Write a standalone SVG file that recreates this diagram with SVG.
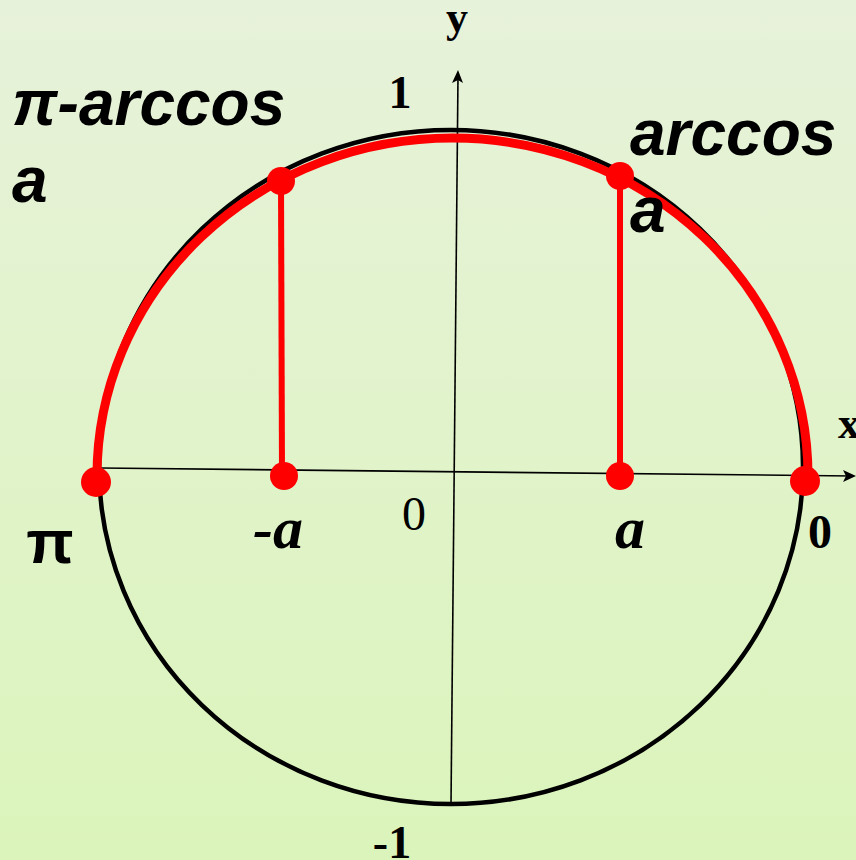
<svg xmlns="http://www.w3.org/2000/svg" width="856" height="860" viewBox="0 0 856 860">
<defs>
<linearGradient id="bg" x1="0" y1="0" x2="0" y2="1">
<stop offset="0" stop-color="#e7f2da"/>
<stop offset="1" stop-color="#dbf4bb"/>
</linearGradient>
<style>
.ser{font-family:"Liberation Serif","Times New Roman",serif;fill:#000}
.sb{font-family:"Liberation Serif","Times New Roman",serif;font-weight:bold;fill:#000}
.sbi{font-family:"Liberation Serif","Times New Roman",serif;font-weight:bold;font-style:italic;fill:#000}
.sans{font-family:"Liberation Sans",Arial,sans-serif;font-weight:bold;font-style:italic;fill:#000}
.axis{stroke:#000;stroke-width:1.6;fill:none}
.red{stroke:#ff0000;fill:none}
.dot{fill:#ff0000}
</style>
</defs>
<rect x="0" y="0" width="856" height="860" fill="url(#bg)"/>
<g id="circle">
<ellipse cx="451" cy="467" rx="352" ry="337" fill="none" stroke="#000" stroke-width="4.5"/>
</g>
<g id="connectors">
<line class="axis" x1="100" y1="468" x2="852" y2="476"/>
<path d="M856 476 L843 470 L846 476 L843 482 Z" fill="#000"/>
<line class="axis" x1="451" y1="804" x2="458" y2="76"/>
<path d="M458 70 L452 83 L458 80 L463 83 Z" fill="#000"/>
<path class="red" stroke-width="9" d="M97 476 A355.5 338 0 0 1 808 476"/>
<line class="red" stroke-width="6" x1="281" y1="181" x2="282" y2="476"/>
<line class="red" stroke-width="6" x1="620" y1="176" x2="620" y2="476"/>
</g>
<g id="points">
<circle class="dot" cx="281" cy="181" r="14"/>
<circle class="dot" cx="620" cy="176" r="14"/>
<circle class="dot" cx="284" cy="476" r="14"/>
<circle class="dot" cx="620" cy="476" r="14"/>
<circle class="dot" cx="96" cy="482" r="15"/>
<circle class="dot" cx="805" cy="481" r="15"/>
</g>
<g id="labels">
<text class="sb" x="457" y="32" font-size="44" text-anchor="middle">y</text>
<text class="sb" x="400" y="108" font-size="46" text-anchor="middle">1</text>
<text class="sb" x="392" y="858" font-size="46" text-anchor="middle">-1</text>
<text class="ser" x="414" y="530" font-size="48" text-anchor="middle">0</text>
<text class="sb" x="838" y="438" font-size="44">x</text>
<text class="sb" x="820" y="548" font-size="48" text-anchor="middle">0</text>
<text class="sbi" x="630" y="548" font-size="60" text-anchor="middle">a</text>
<text class="sbi" x="278" y="548" font-size="60" text-anchor="middle">-a</text>
<text font-family="'Liberation Sans',Arial,sans-serif" font-weight="bold" font-size="62" x="50" y="563" text-anchor="middle">π</text>
<text class="sans" font-size="64" x="12" y="125">π-arccos</text>
<text class="sans" font-size="64" x="12" y="202">a</text>
<text class="sans" font-size="64" x="630" y="155">arccos</text>
<text class="sans" font-size="64" x="630" y="232">a</text>
</g>
</svg>
